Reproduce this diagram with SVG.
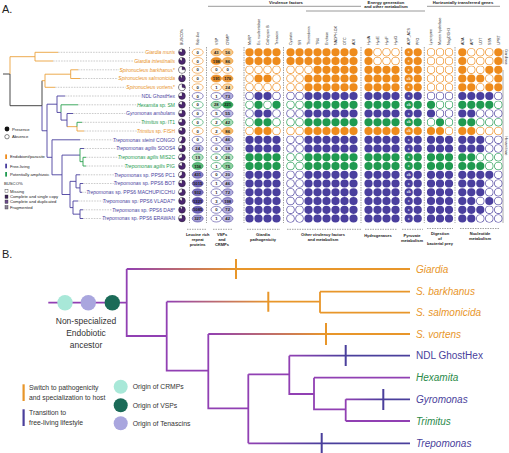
<svg xmlns="http://www.w3.org/2000/svg" xmlns:xlink="http://www.w3.org/1999/xlink" width="509" height="453" viewBox="0 0 509 453">
<style>
text{font-family:"Liberation Sans",Arial,sans-serif}
.sp{font-size:5px;text-anchor:end;stroke:#fff;stroke-width:2;paint-order:stroke;stroke-linejoin:round}
.i{font-style:italic}
.tO{fill:#e8921f}.tP{fill:#4a3f9e}.tG{fill:#239a4e}
.br{fill:none;stroke-width:.9}
.bO{stroke:#eba23c}.bP{stroke:#4a3f9e}.bG{stroke:#2aa04f}.bK{stroke:#333}
.ld{fill:none;stroke:#8a8a8a;stroke-width:.45;stroke-dasharray:1.6 1.1}
.dt{fill:none;stroke-linecap:round;stroke-width:8.2}
.w{fill:none;stroke:#fff;stroke-linecap:round;stroke-width:6.9}
.O{stroke:#ee8b1c}.P{stroke:#4a3f9e}.G{stroke:#1f9a50}
.e{stroke-width:.6}
.rO .e{stroke:#ee8b1c}.rP .e{stroke:#4a3f9e}.rG .e{stroke:#1f9a50}
.n{font-size:4.2px;font-weight:bold;text-anchor:middle;fill:#1a1a1a}
.pie{fill:#4b2670;stroke:#222;stroke-width:.4}
.pw{fill:#fff;stroke:#222;stroke-width:.3}
.pl{font-size:2.6px;font-weight:bold;text-anchor:middle;fill:#fff}
.h{font-size:3.6px;fill:#222}
.gh{font-size:4.2px;font-weight:bold;text-anchor:middle;fill:#222}
.bl{font-size:4px;font-weight:bold;text-anchor:middle;fill:#222}
.dv{fill:none;stroke:#444;stroke-width:.5;stroke-dasharray:1.5 1}
.lg{font-size:4.2px;fill:#222}
.tr{fill:none;stroke-width:1.8}
.tk{fill:none;stroke-width:2}
.bt{font-size:10px}
.lb{font-size:6.8px;fill:#333}
</style>
<defs>
<path id="dots" class="dt" d="M249.5 0h.01M258.5 0h.01M267.5 0h.01M276.5 0h.01M290.5 0h.01M299.5 0h.01M308.5 0h.01M317.5 0h.01M326.5 0h.01M335.5 0h.01M344.5 0h.01M353.5 0h.01M368.5 0h.01M377.5 0h.01M386.5 0h.01M395.5 0h.01M408.7 0h.01M417.7 0h.01M431 0h.01M440 0h.01M449 0h.01M462.3 0h.01M471.3 0h.01M480.3 0h.01M489.3 0h.01M498.3 0h.01"/>
<linearGradient id="gGi" gradientUnits="userSpaceOnUse" x1="126.7" y1="0" x2="236" y2="0"><stop offset="0" stop-color="#9140b3"/><stop offset="1" stop-color="#e8962a"/></linearGradient>
<linearGradient id="gS" gradientUnits="userSpaceOnUse" x1="166.7" y1="0" x2="268.3" y2="0"><stop offset="0" stop-color="#9140b3"/><stop offset="1" stop-color="#e8962a"/></linearGradient>
<linearGradient id="gSv" gradientUnits="userSpaceOnUse" x1="208.3" y1="0" x2="326" y2="0"><stop offset="0" stop-color="#9140b3"/><stop offset="1" stop-color="#e8962a"/></linearGradient>
<linearGradient id="gN" gradientUnits="userSpaceOnUse" x1="289.3" y1="0" x2="345.7" y2="0"><stop offset="0" stop-color="#9140b3"/><stop offset="1" stop-color="#4a3f9c"/></linearGradient>
<linearGradient id="gGy" gradientUnits="userSpaceOnUse" x1="345.7" y1="0" x2="383.3" y2="0"><stop offset="0" stop-color="#9140b3"/><stop offset="1" stop-color="#4a3f9c"/></linearGradient>
<linearGradient id="gT" gradientUnits="userSpaceOnUse" x1="248.3" y1="0" x2="321.7" y2="0"><stop offset="0" stop-color="#9140b3"/><stop offset="1" stop-color="#4a3f9c"/></linearGradient>
</defs>
<rect width="509" height="453" fill="#fff"/>

<text x="2" y="13" font-size="11" fill="#222">A.</text>
<text x="2" y="258" font-size="11" fill="#222">B.</text>

<g id="headers">
<text class="gh" x="286" y="4">Virulence factors</text>
<text class="gh" x="386" y="3.5">Energy generation</text>
<text class="gh" x="386" y="8">and other metabolism</text>
<text class="gh" x="463" y="4">Horizontally transferred genes</text>
<path d="M208 6.3H361M306 11H425M427 6.3H500" stroke="#555" stroke-width=".6" fill="none"/>
<text class="h" transform="translate(183.3,45) rotate(-90)">BUSCO%</text>
<text class="h" transform="translate(199,45) rotate(-90)">Rab-like</text>
<text class="h" transform="translate(217.6,45) rotate(-90)">VSP</text>
<text class="h" transform="translate(229,45) rotate(-90)">CRMP</text>
<text class="h" transform="translate(250.8,45) rotate(-90)">MeRP</text>
<text class="h" transform="translate(259.8,45) rotate(-90)">Ec. nucleotidase</text>
<text class="h" transform="translate(268.8,45) rotate(-90)">Cathepsin B</text>
<text class="h" transform="translate(277.8,45) rotate(-90)">Tenascin</text>
<text class="h" transform="translate(291.8,45) rotate(-90)">Cystatin</text>
<text class="h" transform="translate(300.8,45) rotate(-90)">SR</text>
<text class="h" transform="translate(309.8,45) rotate(-90)">Thioredoxin</text>
<text class="h" transform="translate(318.8,45) rotate(-90)">TR4</text>
<text class="h" transform="translate(327.8,45) rotate(-90)">Enolase</text>
<text class="h" transform="translate(336.8,45) rotate(-90)">NADPH-OX</text>
<text class="h" transform="translate(345.8,45) rotate(-90)">OTC</text>
<text class="h" transform="translate(354.8,45) rotate(-90)">ADI</text>
<text class="h" transform="translate(369.8,45) rotate(-90)">HydA</text>
<text class="h" transform="translate(378.8,45) rotate(-90)">HydE</text>
<text class="h" transform="translate(387.8,45) rotate(-90)">HydF</text>
<text class="h" transform="translate(396.8,45) rotate(-90)">HydG</text>
<text class="h" transform="translate(410,45) rotate(-90)">ADP_ACS</text>
<text class="h" transform="translate(419,45) rotate(-90)">PFO</text>
<text class="h" transform="translate(432.3,45) rotate(-90)">Lysozyme</text>
<text class="h" transform="translate(441.3,45) rotate(-90)">Murein hydrolase</text>
<text class="h" transform="translate(450.3,45) rotate(-90)">NagZ/GH3</text>
<text class="h" transform="translate(463.6,45) rotate(-90)">ADA</text>
<text class="h" transform="translate(472.6,45) rotate(-90)">APT</text>
<text class="h" transform="translate(481.6,45) rotate(-90)">UDT</text>
<text class="h" transform="translate(490.6,45) rotate(-90)">SSN</text>
<text class="h" transform="translate(499.6,45) rotate(-90)">UPRT</text>
</g>

<g id="dividers">
<path class="dv" d="M189.5 47V223M206.5 47V223M244 47V223M283.5 47V223M361 47V223M401.7 47V223M424.3 47V223M455 47V223"/>
<path class="dv" d="M187 229.3H207M213 229.3H233M247 229.3H280M287 229.3H362M365 229.3H397M402 229.3H423M427 228.5H453M460 228.5H500"/>
<path d="M503 50V64M503 70V223" stroke="#999" stroke-width=".8" fill="none"/>
<text transform="translate(504.5,57) rotate(90)" font-size="3.4" text-anchor="middle" fill="#333">Giardiinae</text>
<text transform="translate(504.5,146) rotate(90)" font-size="3.4" text-anchor="middle" fill="#333">Hexamitinae</text>
</g>

<g id="group-labels">
<text class="bl" x="197.7" y="235.7">Leucine rich</text><text class="bl" x="197.7" y="241">repeat</text><text class="bl" x="197.7" y="246.3">proteins</text>
<text class="bl" x="222" y="235.7">VSPs</text><text class="bl" x="222" y="241">and</text><text class="bl" x="222" y="246.3">CRMPs</text>
<text class="bl" x="263" y="235.7">Giardia</text><text class="bl" x="263" y="241">pathogenicity</text>
<text class="bl" x="323" y="235.7">Other virulency factors</text><text class="bl" x="323" y="241">and metabolism</text>
<text class="bl" x="378" y="237">Hydrogenases</text>
<text class="bl" x="412" y="237">Pyruvate</text><text class="bl" x="412" y="242.3">metabolism</text>
<text class="bl" x="440" y="234.7">Digestion</text><text class="bl" x="440" y="239.7">of</text><text class="bl" x="440" y="244.7">bacterial prey</text>
<text class="bl" x="480" y="234.7">Nucleotide</text><text class="bl" x="480" y="240.3">metabolism</text>
</g>

<g id="legend-a">
<circle cx="7" cy="129" r="2.4" fill="#111"/><text class="lg" x="12" y="130.5">Presence</text>
<circle cx="7" cy="136.7" r="2.2" fill="#fff" stroke="#111" stroke-width=".5"/><text class="lg" x="12" y="138.2">Absence</text>
<rect x="5.2" y="154.4" width="1.8" height="4.6" fill="#ee8b1c"/><text class="lg" x="10" y="158.2">Endobiont/parasite</text>
<rect x="5.2" y="163.7" width="1.8" height="4.6" fill="#4a3f9e"/><text class="lg" x="10" y="167.5">Free-living</text>
<rect x="5.2" y="172" width="1.8" height="4.6" fill="#1f9a50"/><text class="lg" x="10" y="175.8">Potentially amphizoic</text>
<text class="lg" x="4" y="184.8">BUSCO%</text>
<rect x="5" y="189.3" width="3" height="3.4" fill="#fff" stroke="#333" stroke-width=".4"/><text class="lg" x="10" y="192.5">Missing</text>
<rect x="5" y="195" width="3" height="3.4" fill="#3a1f55" stroke="#333" stroke-width=".4"/><text class="lg" x="10" y="198.2">Complete and single copy</text>
<rect x="5" y="200" width="3" height="3.4" fill="#6d4b8e" stroke="#333" stroke-width=".4"/><text class="lg" x="10" y="203.2">Complete and duplicated</text>
<rect x="5" y="205.6" width="3" height="3.4" fill="#8d8299" stroke="#333" stroke-width=".4"/><text class="lg" x="10" y="208.8">Fragmented</text>
</g>

<g id="connectors">
<path class="ld" d="M58 52.3H172M53 61H172M78 69.8H172M80 78.5H172M55 87.3H172M65 96H172M78 104.8H172M73 113.5H172M82 122.3H172M84 131H172M80 139.8H172M84 148.5H172M86 157.3H172M86 166H172M80 174.8H172M83 183.5H172M82 192.3H172M78 201H172M83 209.8H172M83 218.5H172"/>
<path class="br bK" d="M3 74H10M10 74V105.7H42M42 80.7V105.7"/>
<path class="br bO" d="M10 74V56.7H35M35 52.3V61M35 52.3H58M35 61H53M42 80.7H45M45 74.2V87.3M45 74.2H70.7M70.7 69.8V78.5M70.7 69.8H78M70.7 78.5H80M45 87.3H55M67 126.65H77M77 126.65V131M77 131H84"/>
<path class="br bP" d="M42 105.7V130.75H47M47 104.2V157.3M47 104.2H57M57 96V112.45M57 96H65M57 112.45H61M61 112.45V120.1H67M67 113.5V126.65M67 113.5H73M47 157.3H52M52 139.8V174.8M52 139.8H80M52 174.8H62M62 155.1V194.5M62 155.1H80M80 148.5H84M62 194.5H70M70 181.35V207.6M70 181.35H76M76 174.8V187.9M76 174.8H80M76 187.9H80M80 183.5V192.3M80 183.5H83M80 192.3H82M70 207.6H73M73 201V214.15M73 201H78M73 214.15H80M80 209.8V218.5M80 209.8H83M80 218.5H83"/>
<path class="br bG" d="M61 104.8V112.45M61 104.8H78M77 122.3V126.65M77 122.3H82M80 148.5V161.65M80 161.65H83M83 157.3V166M83 157.3H86M83 166H86"/>
</g>

<g id="n0" class="rO" transform="translate(0,52.3)"><text class="sp tO" x="175" y="1.8"><tspan class="i">Giardia muris</tspan></text><circle class="pie" cx="182" r="3.4"/><path class="pw" d="M182 0V-3.4A3.4 3.4 0 0 0 178.77 -1.05Z"/><ellipse class="e" cx="197.7" rx="5.5" ry="3.5" fill="#fff"/><text class="n" x="197.7" y="1.5">0</text><ellipse class="e" cx="216.3" rx="5.3" ry="3.5" fill="#f6c98c"/><text class="n" x="216.3" y="1.5">43</text><ellipse class="e" cx="227.7" rx="5.3" ry="3.5" fill="#f6c98c"/><text class="n" x="227.7" y="1.5">56</text><use href="#dots" class="O"/><path class="w" d="M377.5 0h.01M386.5 0h.01M395.5 0h.01M431 0h.01M440 0h.01M449 0h.01M471.3 0h.01M480.3 0h.01M489.3 0h.01"/><text class="pl" x="408.7" y="1">c</text></g>

<g id="n1" class="rO" transform="translate(0,61)"><text class="sp tO" x="175" y="1.8"><tspan class="i">Giardia intestinalis</tspan></text><circle class="pie" cx="182" r="3.4"/><path class="pw" d="M182 0V-3.4A3.4 3.4 0 0 0 179.25 -2Z"/><ellipse class="e" cx="197.7" rx="5.5" ry="3.5" fill="#fff"/><text class="n" x="197.7" y="1.5">0</text><ellipse class="e" cx="216.3" rx="5.3" ry="3.5" fill="#e98f2a"/><text class="n" x="216.3" y="1.5">198</text><ellipse class="e" cx="227.7" rx="5.3" ry="3.5" fill="#f3b96c"/><text class="n" x="227.7" y="1.5">86</text><use href="#dots" class="O"/><path class="w" d="M377.5 0h.01M386.5 0h.01M395.5 0h.01M431 0h.01M440 0h.01M449 0h.01M471.3 0h.01M480.3 0h.01M489.3 0h.01"/><text class="pl" x="408.7" y="1">c</text></g>

<g id="n2" class="rO" transform="translate(0,69.8)"><text class="sp tO" x="175" y="1.8"><tspan class="i">Spironucleus barkhanus</tspan>*</text><circle class="pie" cx="182" r="3.4"/><path class="pw" d="M182 0V-3.4A3.4 3.4 0 1 0 185.4 0Z"/><ellipse class="e" cx="197.7" rx="5.5" ry="3.5" fill="#fff"/><text class="n" x="197.7" y="1.5">0</text><ellipse class="e" cx="216.3" rx="5.3" ry="3.5" fill="#fff"/><text class="n" x="216.3" y="1.5">0</text><ellipse class="e" cx="227.7" rx="5.3" ry="3.5" fill="#fff"/><text class="n" x="227.7" y="1.5">0</text><use href="#dots" class="O"/><path class="w" d="M249.5 0h.01M258.5 0h.01M267.5 0h.01M276.5 0h.01M290.5 0h.01M299.5 0h.01M308.5 0h.01M431 0h.01M440 0h.01M449 0h.01M471.3 0h.01M480.3 0h.01"/><text class="pl" x="408.7" y="1">c</text></g>

<g id="n3" class="rO" transform="translate(0,78.5)"><text class="sp tO" x="175" y="1.8"><tspan class="i">Spironucleus salmonicida</tspan></text><circle class="pie" cx="182" r="3.4"/><path class="pw" d="M182 0V-3.4A3.4 3.4 0 0 0 180 -2.75Z"/><ellipse class="e" cx="197.7" rx="5.5" ry="3.5" fill="#fff"/><text class="n" x="197.7" y="1.5">0</text><ellipse class="e" cx="216.3" rx="5.3" ry="3.5" fill="#e98f2a"/><text class="n" x="216.3" y="1.5">191</text><ellipse class="e" cx="227.7" rx="5.3" ry="3.5" fill="#eb9a3d"/><text class="n" x="227.7" y="1.5">170</text><use href="#dots" class="O"/><path class="w" d="M249.5 0h.01M276.5 0h.01M290.5 0h.01M299.5 0h.01M431 0h.01M440 0h.01M449 0h.01M489.3 0h.01"/><text class="pl" x="408.7" y="1">c/b</text></g>

<g id="n4" class="rO" transform="translate(0,87.3)"><text class="sp tO" x="175" y="1.8"><tspan class="i">Spironucleus vortens</tspan>*</text><circle class="pie" cx="182" r="3.4"/><path class="pw" d="M182 0V-3.4A3.4 3.4 0 1 0 185.23 1.05Z"/><ellipse class="e" cx="197.7" rx="5.5" ry="3.5" fill="#fff"/><text class="n" x="197.7" y="1.5">0</text><ellipse class="e" cx="216.3" rx="5.3" ry="3.5" fill="#fff"/><text class="n" x="216.3" y="1.5">1</text><ellipse class="e" cx="227.7" rx="5.3" ry="3.5" fill="#f8d9a8"/><text class="n" x="227.7" y="1.5">24</text><use href="#dots" class="O"/><path class="w" d="M249.5 0h.01M258.5 0h.01M267.5 0h.01M276.5 0h.01M290.5 0h.01M299.5 0h.01M431 0h.01M440 0h.01M449 0h.01M480.3 0h.01"/><text class="pl" x="408.7" y="1">c</text></g>

<g id="n5" class="rP" transform="translate(0,96)"><text class="sp tP" x="175" y="1.8">NDL GhostHex</text><circle class="pie" cx="182" r="3.4"/><path class="pw" d="M182 0V-3.4A3.4 3.4 0 0 0 178.6 0Z"/><ellipse class="e" cx="197.7" rx="5.5" ry="3.5" fill="#fff"/><text class="n" x="197.7" y="1.5">0</text><ellipse class="e" cx="216.3" rx="5.3" ry="3.5" fill="#fff"/><text class="n" x="216.3" y="1.5">1</text><ellipse class="e" cx="227.7" rx="5.3" ry="3.5" fill="#b4aedb"/><text class="n" x="227.7" y="1.5">73</text><use href="#dots" class="P"/><path class="w" d="M249.5 0h.01M276.5 0h.01M290.5 0h.01M299.5 0h.01M431 0h.01M440 0h.01M449 0h.01M498.3 0h.01"/><text class="pl" x="408.7" y="1">c</text></g>

<g id="n6" class="rG" transform="translate(0,104.8)"><text class="sp tG" x="175" y="1.8"><tspan class="i">Hexamita</tspan> sp. SM</text><circle class="pie" cx="182" r="3.4"/><path class="pw" d="M182 0V-3.4A3.4 3.4 0 0 0 178.77 -1.05Z"/><ellipse class="e" cx="197.7" rx="5.5" ry="3.5" fill="#fff"/><text class="n" x="197.7" y="1.5">0</text><ellipse class="e" cx="216.3" rx="5.3" ry="3.5" fill="#a9dab4"/><text class="n" x="216.3" y="1.5">28</text><ellipse class="e" cx="227.7" rx="5.3" ry="3.5" fill="#2f9e55"/><text class="n" x="227.7" y="1.5">221</text><use href="#dots" class="G"/><path class="w" d="M249.5 0h.01M267.5 0h.01M290.5 0h.01M299.5 0h.01M440 0h.01M449 0h.01M498.3 0h.01"/><text class="pl" x="408.7" y="1">c/b</text></g>

<g id="n7" class="rP" transform="translate(0,113.5)"><text class="sp tP" x="175" y="1.8"><tspan class="i">Gyromonas ambulans</tspan></text><circle class="pie" cx="182" r="3.4"/><path class="pw" d="M182 0V-3.4A3.4 3.4 0 0 0 178.6 0Z"/><ellipse class="e" cx="197.7" rx="5.5" ry="3.5" fill="#fff"/><text class="n" x="197.7" y="1.5">0</text><ellipse class="e" cx="216.3" rx="5.3" ry="3.5" fill="#fff"/><text class="n" x="216.3" y="1.5">5</text><ellipse class="e" cx="227.7" rx="5.3" ry="3.5" fill="#bdb8e0"/><text class="n" x="227.7" y="1.5">55</text><use href="#dots" class="P"/><path class="w" d="M249.5 0h.01M276.5 0h.01M290.5 0h.01M299.5 0h.01M440 0h.01M449 0h.01M480.3 0h.01M489.3 0h.01M498.3 0h.01"/><text class="pl" x="408.7" y="1">c</text></g>

<g id="n8" class="rG" transform="translate(0,122.3)"><text class="sp tG" x="175" y="1.8"><tspan class="i">Trimitus</tspan> sp. IT1</text><circle class="pie" cx="182" r="3.4"/><path class="pw" d="M182 0V-3.4A3.4 3.4 0 0 0 178.6 0Z"/><ellipse class="e" cx="197.7" rx="5.5" ry="3.5" fill="#fff"/><text class="n" x="197.7" y="1.5">0</text><ellipse class="e" cx="216.3" rx="5.3" ry="3.5" fill="#fff"/><text class="n" x="216.3" y="1.5">2</text><ellipse class="e" cx="227.7" rx="5.3" ry="3.5" fill="#a9dab4"/><text class="n" x="227.7" y="1.5">42</text><use href="#dots" class="G"/><path class="w" d="M249.5 0h.01M276.5 0h.01M290.5 0h.01M299.5 0h.01M431 0h.01M449 0h.01M480.3 0h.01M489.3 0h.01M498.3 0h.01"/><text class="pl" x="408.7" y="1">c/b</text></g>

<g id="n9" class="rO" transform="translate(0,131)"><text class="sp tO" x="175" y="1.8"><tspan class="i">Trimitus</tspan> sp. FISH</text><circle class="pie" cx="182" r="3.4"/><path class="pw" d="M182 0V-3.4A3.4 3.4 0 0 0 178.77 -1.05Z"/><ellipse class="e" cx="197.7" rx="5.5" ry="3.5" fill="#fff"/><text class="n" x="197.7" y="1.5">0</text><ellipse class="e" cx="216.3" rx="5.3" ry="3.5" fill="#fff"/><text class="n" x="216.3" y="1.5">2</text><ellipse class="e" cx="227.7" rx="5.3" ry="3.5" fill="#f3b96c"/><text class="n" x="227.7" y="1.5">86</text><use href="#dots" class="O"/><path class="w" d="M249.5 0h.01M276.5 0h.01M290.5 0h.01M299.5 0h.01M449 0h.01M480.3 0h.01M489.3 0h.01M498.3 0h.01"/><text class="pl" x="408.7" y="1">c/b</text></g>

<g id="n10" class="rP" transform="translate(0,139.8)"><text class="sp tP" x="175" y="1.8"><tspan class="i">Trepomonas steinii</tspan> CONGO</text><circle class="pie" cx="182" r="3.4"/><path class="pw" d="M182 0V-3.4A3.4 3.4 0 0 0 180 2.75Z"/><ellipse class="e" cx="197.7" rx="5.5" ry="3.5" fill="#fff"/><text class="n" x="197.7" y="1.5">0</text><ellipse class="e" cx="216.3" rx="5.3" ry="3.5" fill="#fff"/><text class="n" x="216.3" y="1.5">1</text><ellipse class="e" cx="227.7" rx="5.3" ry="3.5" fill="#bdb8e0"/><text class="n" x="227.7" y="1.5">46</text><use href="#dots" class="P"/><path class="w" d="M290.5 0h.01M299.5 0h.01M489.3 0h.01M498.3 0h.01"/><text class="pl" x="408.7" y="1">c</text></g>

<g id="n11" class="rP" transform="translate(0,148.5)"><text class="sp tP" x="175" y="1.8"><tspan class="i">Trepomonas agilis</tspan> SOOS4</text><circle class="pie" cx="182" r="3.4"/><path class="pw" d="M182 0V-3.4A3.4 3.4 0 0 0 178.6 0Z"/><ellipse class="e" cx="197.7" rx="5.5" ry="3.5" fill="#c9c5e6"/><text class="n" x="197.7" y="1.5">24</text><ellipse class="e" cx="216.3" rx="5.3" ry="3.5" fill="#fff"/><text class="n" x="216.3" y="1.5">0</text><ellipse class="e" cx="227.7" rx="5.3" ry="3.5" fill="#c9c5e6"/><text class="n" x="227.7" y="1.5">18</text><use href="#dots" class="P"/><path class="w" d="M290.5 0h.01M299.5 0h.01M489.3 0h.01M498.3 0h.01"/><text class="pl" x="408.7" y="1">c</text></g>

<g id="n12" class="rG" transform="translate(0,157.3)"><text class="sp tG" x="175" y="1.8"><tspan class="i">Trepomonas agilis</tspan> MIS2C</text><circle class="pie" cx="182" r="3.4"/><path class="pw" d="M182 0V-3.4A3.4 3.4 0 0 0 178.77 1.05Z"/><ellipse class="e" cx="197.7" rx="5.5" ry="3.5" fill="#b9e0c2"/><text class="n" x="197.7" y="1.5">19</text><ellipse class="e" cx="216.3" rx="5.3" ry="3.5" fill="#fff"/><text class="n" x="216.3" y="1.5">0</text><ellipse class="e" cx="227.7" rx="5.3" ry="3.5" fill="#b9e0c2"/><text class="n" x="227.7" y="1.5">26</text><use href="#dots" class="G"/><path class="w" d="M290.5 0h.01M299.5 0h.01M480.3 0h.01M489.3 0h.01M498.3 0h.01"/><text class="pl" x="408.7" y="1">c</text></g>

<g id="n13" class="rG" transform="translate(0,166)"><text class="sp tG" x="175" y="1.8"><tspan class="i">Trepomonas agilis</tspan> PIG</text><circle class="pie" cx="182" r="3.4"/><path class="pw" d="M182 0V-3.4A3.4 3.4 0 0 0 178.77 -1.05Z"/><ellipse class="e" cx="197.7" rx="5.5" ry="3.5" fill="#5cb877"/><text class="n" x="197.7" y="1.5">156</text><ellipse class="e" cx="216.3" rx="5.3" ry="3.5" fill="#fff"/><text class="n" x="216.3" y="1.5">1</text><ellipse class="e" cx="227.7" rx="5.3" ry="3.5" fill="#8fcf9f"/><text class="n" x="227.7" y="1.5">75</text><use href="#dots" class="G"/><path class="w" d="M290.5 0h.01M299.5 0h.01M489.3 0h.01M498.3 0h.01"/><text class="pl" x="408.7" y="1">c</text></g>

<g id="n14" class="rP" transform="translate(0,174.8)"><text class="sp tP" x="175" y="1.8"><tspan class="i">Trepomonas</tspan> sp. PPS6 PC1</text><circle class="pie" cx="182" r="3.4"/><path class="pw" d="M182 0V-3.4A3.4 3.4 0 0 0 179.25 2Z"/><ellipse class="e" cx="197.7" rx="5.5" ry="3.5" fill="#8a80c8"/><text class="n" x="197.7" y="1.5">431</text><ellipse class="e" cx="216.3" rx="5.3" ry="3.5" fill="#fff"/><text class="n" x="216.3" y="1.5">0</text><ellipse class="e" cx="227.7" rx="5.3" ry="3.5" fill="#c9c5e6"/><text class="n" x="227.7" y="1.5">20</text><use href="#dots" class="P"/><path class="w" d="M290.5 0h.01M299.5 0h.01M498.3 0h.01"/><text class="pl" x="408.7" y="1">c/b</text></g>

<g id="n15" class="rP" transform="translate(0,183.5)"><text class="sp tP" x="175" y="1.8"><tspan class="i">Trepomonas</tspan> sp. PPS6 BOT</text><circle class="pie" cx="182" r="3.4"/><path class="pw" d="M182 0V-3.4A3.4 3.4 0 0 0 178.77 -1.05Z"/><ellipse class="e" cx="197.7" rx="5.5" ry="3.5" fill="#6f64b8"/><text class="n" x="197.7" y="1.5">1015</text><ellipse class="e" cx="216.3" rx="5.3" ry="3.5" fill="#fff"/><text class="n" x="216.3" y="1.5">1</text><ellipse class="e" cx="227.7" rx="5.3" ry="3.5" fill="#bdb8e0"/><text class="n" x="227.7" y="1.5">46</text><use href="#dots" class="P"/><path class="w" d="M290.5 0h.01M299.5 0h.01M489.3 0h.01M498.3 0h.01"/><text class="pl" x="408.7" y="1">c</text></g>

<g id="n16" class="rP" transform="translate(0,192.3)"><text class="sp tP" x="175" y="1.8"><tspan class="i">Trepomonas</tspan> sp. PPS6 MACHUPICCHU</text><circle class="pie" cx="182" r="3.4"/><path class="pw" d="M182 0V-3.4A3.4 3.4 0 0 0 178.77 1.05Z"/><ellipse class="e" cx="197.7" rx="5.5" ry="3.5" fill="#7a70be"/><text class="n" x="197.7" y="1.5">932</text><ellipse class="e" cx="216.3" rx="5.3" ry="3.5" fill="#fff"/><text class="n" x="216.3" y="1.5">1</text><ellipse class="e" cx="227.7" rx="5.3" ry="3.5" fill="#b4aedb"/><text class="n" x="227.7" y="1.5">72</text><use href="#dots" class="P"/><path class="w" d="M290.5 0h.01M299.5 0h.01M489.3 0h.01M498.3 0h.01"/><text class="pl" x="408.7" y="1">c/b</text></g>

<g id="n17" class="rP" transform="translate(0,201)"><text class="sp tP" x="175" y="1.8"><tspan class="i">Trepomonas</tspan> sp. PPS6 VLADA7*</text><circle class="pie" cx="182" r="3.4"/><path class="pw" d="M182 0V-3.4A3.4 3.4 0 0 0 179.25 -2Z"/><ellipse class="e" cx="197.7" rx="5.5" ry="3.5" fill="#5a4eab"/><text class="n" x="197.7" y="1.5">1321</text><ellipse class="e" cx="216.3" rx="5.3" ry="3.5" fill="#fff"/><text class="n" x="216.3" y="1.5">3</text><ellipse class="e" cx="227.7" rx="5.3" ry="3.5" fill="#9a92cf"/><text class="n" x="227.7" y="1.5">198</text><use href="#dots" class="P"/><path class="w" d="M290.5 0h.01M299.5 0h.01M480.3 0h.01M498.3 0h.01"/><text class="pl" x="408.7" y="1">c</text></g>

<g id="n18" class="rP" transform="translate(0,209.8)"><text class="sp tP" x="175" y="1.8"><tspan class="i">Trepomonas</tspan> sp. PPS6 DA8*</text><circle class="pie" cx="182" r="3.4"/><path class="pw" d="M182 0V-3.4A3.4 3.4 0 0 0 180 -2.75Z"/><ellipse class="e" cx="197.7" rx="5.5" ry="3.5" fill="#6f64b8"/><text class="n" x="197.7" y="1.5">1085</text><ellipse class="e" cx="216.3" rx="5.3" ry="3.5" fill="#fff"/><text class="n" x="216.3" y="1.5">0</text><ellipse class="e" cx="227.7" rx="5.3" ry="3.5" fill="#b4aedb"/><text class="n" x="227.7" y="1.5">72</text><use href="#dots" class="P"/><path class="w" d="M290.5 0h.01M299.5 0h.01M489.3 0h.01M498.3 0h.01"/><text class="pl" x="408.7" y="1">c</text></g>

<g id="n19" class="rP" transform="translate(0,218.5)"><text class="sp tP" x="175" y="1.8"><tspan class="i">Trepomonas</tspan> sp. PPS6 ERAWAN</text><circle class="pie" cx="182" r="3.4"/><path class="pw" d="M182 0V-3.4A3.4 3.4 0 0 0 178.6 0Z"/><ellipse class="e" cx="197.7" rx="5.5" ry="3.5" fill="#a49dd4"/><text class="n" x="197.7" y="1.5">327</text><ellipse class="e" cx="216.3" rx="5.3" ry="3.5" fill="#fff"/><text class="n" x="216.3" y="1.5">1</text><ellipse class="e" cx="227.7" rx="5.3" ry="3.5" fill="#bdb8e0"/><text class="n" x="227.7" y="1.5">42</text><use href="#dots" class="P"/><path class="w" d="M290.5 0h.01M299.5 0h.01M480.3 0h.01M489.3 0h.01M498.3 0h.01"/><text class="pl" x="408.7" y="1">c</text></g>

<g id="connectors-b">
<path class="tr" stroke="#9140b3" d="M126.7 269V336H166.7M166.7 301.7V370.7H208.3M208.3 334V408.3H248.3M248.3 374.3V443.3M248.3 374.3H289.3M289.3 355.7V394H314M314 377.7V409.3H345.7M345.7 399.3V421M314 377.7H410M345.7 421H410M48.3 302.7H126.7"/>
<path class="tr" stroke="url(#gGi)" d="M126.7 269H410"/>
<path class="tr" stroke="url(#gS)" d="M166.7 301.7H320"/>
<path class="tr" stroke="#e8962a" d="M320 291.7V312.7M320 291.7H410M320 312.7H410"/>
<path class="tr" stroke="url(#gSv)" d="M208.3 334H410"/>
<path class="tr" stroke="url(#gN)" d="M289.3 355.7H410"/>
<path class="tr" stroke="url(#gGy)" d="M345.7 399.3H410"/>
<path class="tr" stroke="url(#gT)" d="M248.3 443.3H410"/>
<path class="tk" stroke="#e8962a" d="M236 259V279M268.3 291.7V311.7M326 323V345"/>
<path class="tk" stroke="#4a3f9c" d="M345.7 345V366M383.3 389V410M321.7 433V453"/>
</g>

<g id="ancestor">
<circle cx="65" cy="302.7" r="7.7" fill="#a8e8d8"/>
<circle cx="88.3" cy="302.7" r="7.7" fill="#a9a6de"/>
<circle cx="112.3" cy="302.7" r="7.7" fill="#1b6b58"/>
<text x="86" y="323.8" font-size="8.5" text-anchor="middle" fill="#333">Non-specialized</text>
<text x="86" y="335.8" font-size="8.5" text-anchor="middle" fill="#333">Endobiotic</text>
<text x="86" y="347.5" font-size="8.5" text-anchor="middle" fill="#333">ancestor</text>
</g>

<g id="taxa-b">
<text class="bt i" x="416" y="272.5" fill="#e8962a">Giardia</text>
<text class="bt i" x="416" y="295.2" fill="#e8962a">S. barkhanus</text>
<text class="bt i" x="416" y="316.2" fill="#e8962a">S. salmonicida</text>
<text class="bt i" x="416" y="337.5" fill="#e8962a">S. vortens</text>
<text class="bt" x="416" y="359.2" fill="#4a3f9c">NDL GhostHex</text>
<text class="bt i" x="416" y="381.2" fill="#2a8a4a">Hexamita</text>
<text class="bt i" x="416" y="402.8" fill="#4a3f9c">Gyromonas</text>
<text class="bt i" x="416" y="424.5" fill="#2a8a4a">Trimitus</text>
<text class="bt i" x="416" y="446.8" fill="#4a3f9c">Trepomonas</text>
</g>

<g id="legend-b">
<rect x="22.5" y="384.3" width="2.2" height="16.7" fill="#e8962a"/>
<text class="lb" x="29" y="390">Switch to pathogenicity</text>
<text class="lb" x="29" y="400">and specialization to host</text>
<rect x="22.5" y="409.3" width="2.2" height="16.7" fill="#4a3f9c"/>
<text class="lb" x="29" y="415">Transition to</text>
<text class="lb" x="29" y="425">free-living lifestyle</text>
<circle cx="120.7" cy="386.7" r="7" fill="#a8e8d8"/>
<text class="lb" x="132.7" y="389">Origin of CRMPs</text>
<circle cx="120.7" cy="405.3" r="7" fill="#1b6b58"/>
<text class="lb" x="132.7" y="407.7">Origin of VSPs</text>
<circle cx="120.7" cy="423.3" r="7" fill="#a9a6de"/>
<text class="lb" x="132.7" y="425.7">Origin of Tenascins</text>
</g>
</svg>
